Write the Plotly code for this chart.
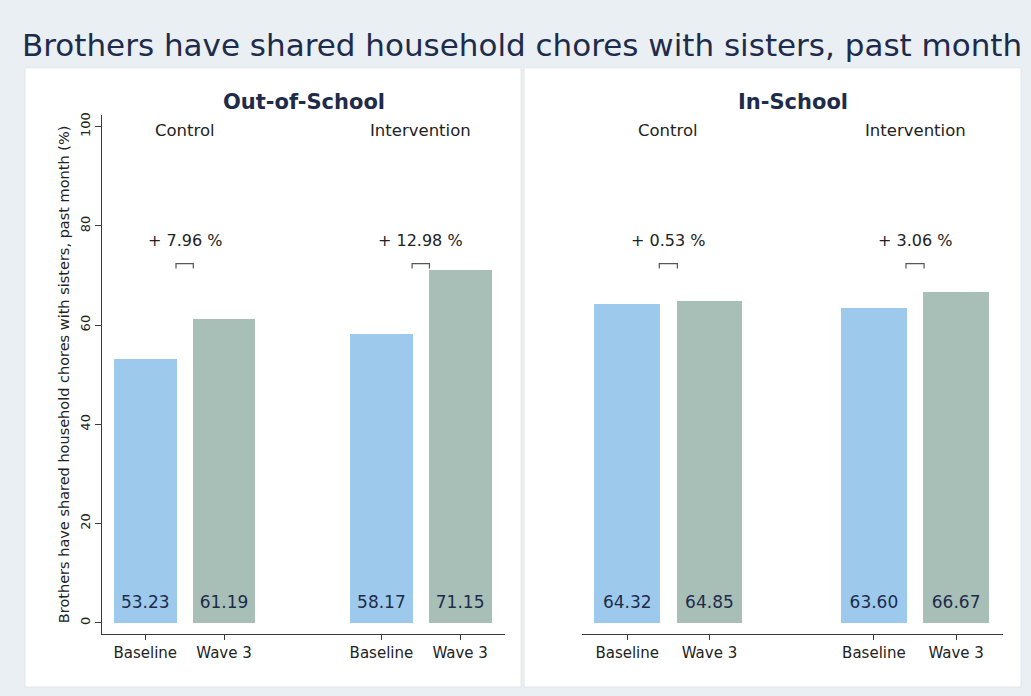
import plotly.graph_objects as go

# ---- data ----
panels = ["Out-of-School", "In-School"]
groups = ["Control", "Intervention"]
waves = ["Baseline", "Wave 3"]
x_pos = [1, 2, 4, 5]
tick_labels = ["Baseline", "Wave 3", "Baseline", "Wave 3"]
out_school = [53.23, 61.19, 58.17, 71.15]
in_school = [64.32, 64.85, 63.60, 66.67]
diff_labels_out = ["+ 7.96 %", "+ 12.98 %"]
diff_labels_in = ["+ 0.53 %", "+ 3.06 %"]
y_ticks = [0, 20, 40, 60, 80, 100]
title = "Brothers have shared household chores with sisters, past month"
y_title = "Brothers have shared household chores with sisters, past month (%)"

W, H = 1031, 696
FONT = "DejaVu Sans, Liberation Sans, Arial, sans-serif"
BLUE = "#9dcaec"
GREEN = "#a7bfb7"
NAVY = "#1f2b4b"
AX = "#3a3a3a"
TXT = "#222222"

def px(x):
    return x / W

def py(y):
    return 1 - y / H

fig = go.Figure()

bar_colors = [BLUE, GREEN, BLUE, GREEN]
label_y = 3.8
bracket_y = 72.4
diff_y = 77.0
group_y = 99.3

for i, (vals, diffs) in enumerate([(out_school, diff_labels_out), (in_school, diff_labels_in)]):
    xa = "x" if i == 0 else "x2"
    ya = "y" if i == 0 else "y2"
    fig.add_trace(go.Bar(x=x_pos, y=vals, width=0.8, marker=dict(color=bar_colors, line=dict(width=0)),
                         xaxis=xa, yaxis=ya, showlegend=False, hoverinfo="skip"))
    fig.add_trace(go.Scatter(x=x_pos, y=[label_y] * 4, text=[f"{v:.2f}" for v in vals],
                             mode="text", textfont=dict(size=17, color=NAVY, family=FONT),
                             xaxis=xa, yaxis=ya, showlegend=False, hoverinfo="skip"))
    for g in range(2):
        c = (x_pos[2 * g] + x_pos[2 * g + 1]) / 2
        fig.add_trace(go.Scatter(x=[c - 0.11, c - 0.11, c + 0.11, c + 0.11],
                                 y=[bracket_y - 1.0, bracket_y, bracket_y, bracket_y - 1.0],
                                 mode="lines", line=dict(color="#555555", width=1.2),
                                 xaxis=xa, yaxis=ya, showlegend=False, hoverinfo="skip"))
        fig.add_annotation(x=c, y=diff_y, xref=xa, yref=ya, text=diffs[g], showarrow=False,
                           xanchor="center", font=dict(size=16, color=TXT, family=FONT))
        fig.add_annotation(x=c, y=group_y, xref=xa, yref=ya, text=groups[g], showarrow=False,
                           xanchor="center", font=dict(size=16.5, color=TXT, family=FONT))

# panel backgrounds
fig.add_shape(type="rect", xref="paper", yref="paper", x0=px(25), x1=px(521), y0=py(687), y1=py(66),
              fillcolor="white", line=dict(color="#e2e6ea", width=1), layer="below")
fig.add_shape(type="rect", xref="paper", yref="paper", x0=px(524), x1=px(1021), y0=py(687), y1=py(66),
              fillcolor="white", line=dict(color="#e2e6ea", width=1), layer="below")

# panel titles
fig.add_annotation(x=px(303.5), y=py(100), xref="paper", yref="paper", text="<b>" + panels[0] + "</b>",
                   showarrow=False, xanchor="center", yanchor="middle",
                   font=dict(size=21, color=NAVY, family=FONT))
fig.add_annotation(x=px(792.5), y=py(100), xref="paper", yref="paper", text="<b>" + panels[1] + "</b>",
                   showarrow=False, xanchor="center", yanchor="middle",
                   font=dict(size=21, color=NAVY, family=FONT))

# main title
fig.add_annotation(x=px(20), y=py(43), xref="paper", yref="paper", text=title, xanchor="left",
                   yanchor="middle", showarrow=False, font=dict(size=31, color=NAVY, family=FONT))

y_range = [-2.3, 102.4]
y_dom = [py(634), py(113)]
x_range = [0.45, 5.57]

fig.update_layout(
    width=W, height=H,
    margin=dict(l=0, r=0, t=0, b=0),
    paper_bgcolor="#e9eff3",
    plot_bgcolor="rgba(0,0,0,0)",
    font=dict(family=FONT, color=TXT),
    bargap=0,
    xaxis=dict(domain=[px(102), px(505)], range=x_range, tickvals=x_pos, ticktext=tick_labels,
               showline=True, linecolor=AX, linewidth=1, ticks="outside", ticklen=5, tickcolor=AX,
               showgrid=False, zeroline=False, tickfont=dict(size=15, color=TXT)),
    xaxis2=dict(domain=[px(582), px(1003)], range=x_range, tickvals=x_pos, ticktext=tick_labels,
                showline=True, linecolor=AX, linewidth=1, ticks="outside", ticklen=5, tickcolor=AX,
                showgrid=False, zeroline=False, tickfont=dict(size=15, color=TXT), anchor="y2"),
    yaxis=dict(domain=y_dom, range=y_range, tickvals=y_ticks, showline=True, linecolor=AX, linewidth=1,
               ticks="outside", ticklen=6, tickcolor=AX, showgrid=False, zeroline=False, tickangle=-90,
               tickfont=dict(size=13, color=TXT),
               title=dict(text=y_title, font=dict(size=14.5, color=TXT), standoff=4)),
    yaxis2=dict(domain=y_dom, range=y_range, visible=False, anchor="x2"),
)

fig.write_html("out.html", config={"displayModeBar": False},
               post_script="document.body.style.margin='0';")
